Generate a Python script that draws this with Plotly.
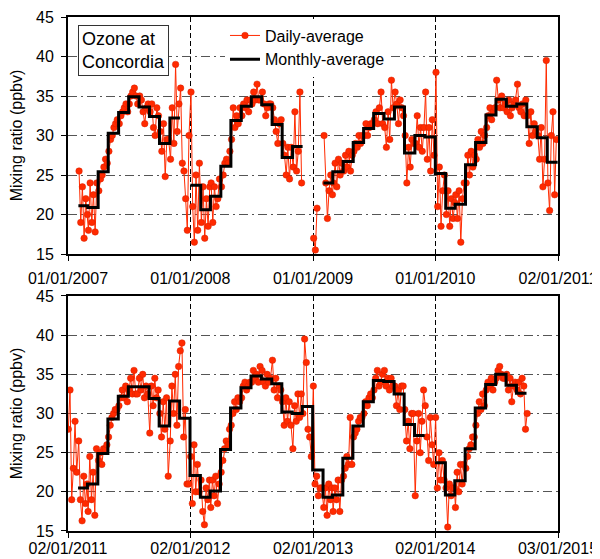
import plotly.graph_objects as go
from datetime import date

# sampling days used for the daily series within each month
SAMPLE_DAYS = [3, 8, 13, 18, 23, 28]

# ---------------- daily averages (ppbv), one list of 6 per month ----------------
daily_2007 = [
    [],
    [25.5, 19.0, 23.5, 17.0, 22.0, 20.0],
    [18.0, 24.0, 19.0, 22.5, 17.8, 24.0],
    [23.0, 24.5, 25.0, 26.0, 27.0, 26.5],
    [28.0, 29.5, 30.0, 31.0, 31.5, 32.0],
    [31.5, 32.5, 33.0, 33.5, 34.0, 33.0],
    [34.0, 35.0, 35.5, 36.0, 35.0, 34.0],
    [35.0, 34.5, 33.0, 31.5, 33.5, 34.0],
    [33.0, 34.0, 31.0, 30.0, 33.5, 32.5],
    [30.5, 28.0, 31.5, 24.8, 29.5, 29.5],
    [27.0, 33.5, 29.0, 39.0, 30.5, 34.0],
    [36.0, 26.5, 25.5, 22.0, 18.0, 30.0],
]
daily_2008 = [
    [35.5, 21.0, 16.5, 25.0, 18.0, 26.5],
    [19.0, 23.5, 17.0, 22.0, 18.5, 23.5],
    [24.0, 19.0, 23.5, 21.0, 22.0, 24.5],
    [23.5, 25.0, 26.5, 27.0, 26.5, 28.0],
    [29.5, 33.5, 31.0, 32.5, 31.5, 33.5],
    [32.5, 34.0, 33.5, 34.5, 33.0, 34.5],
    [34.0, 35.5, 34.5, 36.5, 34.5, 34.5],
    [35.5, 34.0, 32.5, 33.5, 34.0, 34.0],
    [33.5, 32.0, 30.5, 29.0, 31.5, 32.0],
    [29.0, 27.5, 25.0, 28.5, 24.5, 28.5],
    [26.0, 33.0, 25.5, 28.0, 35.5, 24.0],
    [],
]
daily_2009 = [
    [17.0, 15.5, 20.8, None, None, None],
    [30.0, 24.0, 19.5, 23.0, 25.0, 22.5],
    [24.0, 26.5, 23.5, 27.0, 25.0, 26.5],
    [25.5, 27.5, 26.0, 28.0, 25.5, 27.5],
    [28.0, 29.0, 28.5, 30.0, 29.0, 30.0],
    [30.0, 31.5, 30.0, 31.0, 31.5, 31.5],
    [32.0, 33.0, 31.5, 33.5, 35.5, 31.5],
    [31.0, 28.5, 33.0, 29.5, 37.0, 33.5],
    [35.5, 34.0, 31.5, 34.5, 33.5, 32.5],
    [30.0, 24.0, 28.5, 26.0, 29.5, 29.0],
    [29.0, 32.5, 28.5, 31.0, 28.0, 31.0],
    [35.5, 27.0, 31.0, 25.5, 32.0, 27.5],
]
daily_2010 = [
    [38.0, 21.0, 26.0, 18.5, 23.0, 25.0],
    [20.0, 23.0, 18.5, 22.0, 19.5, 21.5],
    [22.5, 19.5, 23.0, 16.5, 22.0, 24.0],
    [24.0, 27.5, 25.0, 28.0, 26.0, 27.5],
    [27.0, 29.5, 28.5, 30.5, 29.0, 30.0],
    [31.0, 32.5, 33.5, 32.0, 33.0, 33.5],
    [37.0, 34.5, 33.5, 35.0, 33.5, 34.0],
    [33.0, 34.5, 32.5, 33.5, 34.0, 34.5],
    [36.5, 33.5, 33.0, 34.0, 32.5, 34.5],
    [32.5, 29.0, 33.0, 30.0, 31.5, 30.5],
    [30.0, 27.0, 31.0, 23.5, 27.0, 39.5],
    [24.0, 20.5, 30.0, 33.0, 22.5, 29.5],
]
daily_2011 = [
    [28.0, 33.0, 19.0, 23.0, 29.0, 22.5],
    [26.5, 19.0, 16.3, 22.0, 18.5, 21.0],
    [17.5, 24.5, 19.0, 22.5, 17.0, 25.5],
    [24.0, 25.0, 23.5, 25.5, 25.5, 26.0],
    [27.0, 28.5, 29.5, 30.0, 30.5, 30.5],
    [31.0, 32.0, 33.0, 32.0, 33.5, 31.5],
    [33.0, 34.5, 32.5, 35.5, 32.5, 32.5],
    [34.5, 33.0, 35.0, 32.0, 33.5, 32.5],
    [27.5, 33.5, 31.0, 34.5, 32.0, 33.0],
    [30.0, 27.0, 31.5, 28.0, 32.0, 22.0],
    [26.5, 33.5, 30.0, 35.0, 28.5, 36.0],
    [38.0, 39.0, 27.0, 30.5, 21.0, 21.0],
]
daily_2012 = [
    [24.5, 18.5, 26.0, 20.0, 23.5, 20.0],
    [21.5, 17.5, 15.8, 20.5, 19.0, 21.5],
    [18.0, 21.5, 19.5, 22.0, 18.5, 21.0],
    [22.5, 24.0, 25.5, 26.5, 26.0, 28.0],
    [28.5, 30.0, 31.5, 30.5, 32.0, 31.5],
    [32.0, 33.5, 34.0, 33.0, 33.5, 34.0],
    [34.0, 35.5, 34.5, 35.0, 34.0, 36.0],
    [35.5, 34.0, 33.5, 35.0, 34.0, 34.5],
    [36.8, 33.0, 34.5, 32.0, 33.5, 33.0],
    [31.5, 28.5, 32.0, 29.0, 31.5, 28.5],
    [25.5, 31.0, 29.0, 32.5, 29.5, 32.5],
    [30.0, 39.5, 36.5, 28.0, 27.0, 24.5],
]
daily_2013 = [
    [33.5, 21.0, 22.0, 19.5, 20.5, 20.5],
    [18.0, 20.5, 17.0, 21.0, 19.0, 20.5],
    [17.5, 20.5, 19.0, 21.5, 17.5, 21.5],
    [22.0, 23.0, 24.5, 23.5, 29.5, 23.5],
    [27.0, 27.5, 28.0, 29.0, 29.5, 29.5],
    [30.0, 31.5, 31.0, 32.0, 32.5, 32.0],
    [33.0, 34.5, 35.5, 33.5, 34.0, 35.0],
    [35.5, 33.5, 34.5, 33.0, 34.5, 33.5],
    [33.5, 31.0, 33.0, 30.5, 33.5, 33.5],
    [30.5, 26.5, 29.0, 25.5, 30.0, 30.0],
    [19.5, 26.5, 30.0, 25.0, 29.0, 33.0],
    [31.0, 27.0, 24.0, 29.5, 26.0, 23.5],
]
daily_2014 = [
    [29.5, 20.5, 25.0, 21.5, 24.0, 21.5],
    [20.5, 15.5, 21.0, 19.5, 20.5, 20.5],
    [18.0, 22.5, 20.0, 23.5, 21.0, 23.5],
    [23.0, 24.5, 25.5, 26.0, 27.0, 27.0],
    [28.5, 30.0, 31.5, 30.5, 32.5, 31.0],
    [33.0, 34.0, 33.5, 34.5, 33.0, 34.0],
    [34.5, 35.5, 36.0, 35.0, 34.5, 34.5],
    [35.0, 33.0, 34.5, 31.5, 33.5, 34.0],
    [33.0, 34.0, 32.5, 34.5, 33.5, 28.0],
    [30.0, None, None, None, None, None],
    [],
    [],
]

# ---------------- monthly averages (ppbv), Jan..Dec ----------------
monthly_2007 = [None, 21.1, 20.9, 25.4, 30.3, 32.9, 34.9, 33.6, 32.4, 29.0, 32.2, None]
monthly_2008 = [23.7, 20.6, 22.3, 26.1, 31.9, 33.7, 34.9, 33.9, 31.4, 27.2, 28.6, None]
monthly_2009 = [None, 24.0, 25.4, 26.7, 29.1, 30.9, 32.8, 32.1, 33.6, 27.8, 30.0, 29.8]
monthly_2010 = [25.2, 20.8, 21.3, 26.3, 29.1, 32.6, 34.6, 33.7, 34.0, 31.1, 29.7, 26.6]
monthly_2011 = [None, 20.5, 21.0, 24.9, 29.3, 32.2, 33.4, 33.4, 31.9, 28.4, 31.6, 29.4]
monthly_2012 = [22.1, 19.3, 20.1, 25.4, 30.7, 33.3, 34.8, 34.4, 33.8, 30.2, 30.0, 30.9]
monthly_2013 = [22.8, 19.3, 19.6, 24.3, 28.4, 31.5, 34.2, 34.1, 32.5, 28.6, 27.2, None]
monthly_2014 = [23.7, 19.6, 21.4, 25.5, 30.7, 33.7, 35.0, 33.6, 32.6, None, None, None]

# ---------------- axis tick labels ----------------
top_tickvals = ["2007-01-01", "2008-01-01", "2009-01-01", "2010-01-01", "2011-01-02"]
top_ticktext = ["01/01/2007", "01/01/2008", "01/01/2009", "01/01/2010", "02/01/2011"]
bot_tickvals = ["2011-01-02", "2012-01-02", "2013-01-02", "2014-01-02", "2015-01-03"]
bot_ticktext = ["02/01/2011", "02/01/2012", "02/01/2013", "02/01/2014", "03/01/2015"]


def daily_xy(years):
    xs, ys = [], []
    for year, months in years:
        for m, vals in enumerate(months, start=1):
            if not vals:
                xs.append(None)
                ys.append(None)
                continue
            for d, v in zip(SAMPLE_DAYS, vals):
                xs.append(date(year, m, d).isoformat())
                ys.append(v)
    return xs, ys


def monthly_xy(years):
    xs, ys = [], []
    for year, vals in years:
        for m, v in enumerate(vals, start=1):
            if v is None:
                xs.append(None)
                ys.append(None)
                continue
            start = date(year, m, 1)
            end = date(year + (1 if m == 12 else 0), m % 12 + 1, 1)
            xs += [start.isoformat(), end.isoformat()]
            ys += [v, v]
    return xs, ys


RED = "#FF2A00"
FONT = "Liberation Sans, Arial, Helvetica, sans-serif"

fig = go.Figure()

panels = [
    ("x", "y", [(2007, daily_2007), (2008, daily_2008), (2009, daily_2009), (2010, daily_2010)],
     [(2007, monthly_2007), (2008, monthly_2008), (2009, monthly_2009), (2010, monthly_2010)], True),
    ("x2", "y2", [(2011, daily_2011), (2012, daily_2012), (2013, daily_2013), (2014, daily_2014)],
     [(2011, monthly_2011), (2012, monthly_2012), (2013, monthly_2013), (2014, monthly_2014)], False),
]

for xa, ya, dyears, myears, show in panels:
    dx, dy = daily_xy(dyears)
    mx, my = monthly_xy(myears)
    fig.add_trace(go.Scatter(
        x=dx, y=dy, xaxis=xa, yaxis=ya, mode="lines+markers",
        name="Daily-average", showlegend=show,
        line=dict(color=RED, width=1),
        marker=dict(color=RED, size=6.5, symbol="circle",
                    line=dict(color="#D92000", width=0.5)),
    ))
    fig.add_trace(go.Scatter(
        x=mx, y=my, xaxis=xa, yaxis=ya, mode="lines",
        name="Monthly-average", showlegend=show,
        line=dict(color="black", width=3),
    ))

common_x = dict(
    type="date", showline=True, mirror=True, linecolor="black", linewidth=2,
    ticks="outside", ticklen=5, tickcolor="black", tickwidth=1,
    showgrid=True, gridcolor="black", gridwidth=1, griddash="5px,3px",
    zeroline=False, automargin=False,
    tickfont=dict(family=FONT, size=16, color="black"),
)
common_y = dict(
    range=[15, 45], dtick=5, tick0=15, showline=True, mirror=True,
    linecolor="black", linewidth=2, ticks="outside", ticklen=5,
    tickcolor="black", tickwidth=1, showgrid=True, gridcolor="#555555",
    gridwidth=1, griddash="9px,4px,2px,4px", zeroline=False,
    automargin=False, ticklabelstandoff=4,
    tickfont=dict(family=FONT, size=16, color="black"),
    title=dict(text="Mixing ratio (ppbv)", font=dict(family=FONT, size=16, color="black"),
               standoff=12),
)

# page body keeps an 8px margin, so the figure is sized to end at the window edge
fig.update_layout(
    width=592, height=551,
    margin=dict(l=60, r=42, t=9, b=28),
    paper_bgcolor="white", plot_bgcolor="white",
    font=dict(family=FONT, size=16, color="black"),
    xaxis=dict(common_x, domain=[0, 1], anchor="y", ticklabelstandoff=4,
               range=["2007-01-01", "2011-01-02"],
               tickmode="array", tickvals=top_tickvals, ticktext=top_ticktext),
    yaxis=dict(common_y, domain=[0.5389, 1.0], anchor="x"),
    xaxis2=dict(common_x, domain=[0, 1], anchor="y2", ticklabelstandoff=-3,
                range=["2011-01-02", "2015-01-03"],
                tickmode="array", tickvals=bot_tickvals, ticktext=bot_ticktext),
    yaxis2=dict(common_y, domain=[0.0, 0.4572], anchor="x2"),
    legend=dict(x=0.3204, y=0.997, xanchor="left", yanchor="top",
                bgcolor="white", borderwidth=0,
                font=dict(family=FONT, size=16, color="black"),
                tracegroupgap=0, itemwidth=30),
    showlegend=True,
    annotations=[dict(
        text="Ozone at<br>Concordia", xref="paper", yref="paper",
        x=0.020, y=0.984, xanchor="left", yanchor="top", align="left",
        showarrow=False, font=dict(family=FONT, size=18, color="black"),
        bordercolor="#333333", borderwidth=1, borderpad=3, bgcolor="white",
    )],
)

fig.write_html("out.html")
